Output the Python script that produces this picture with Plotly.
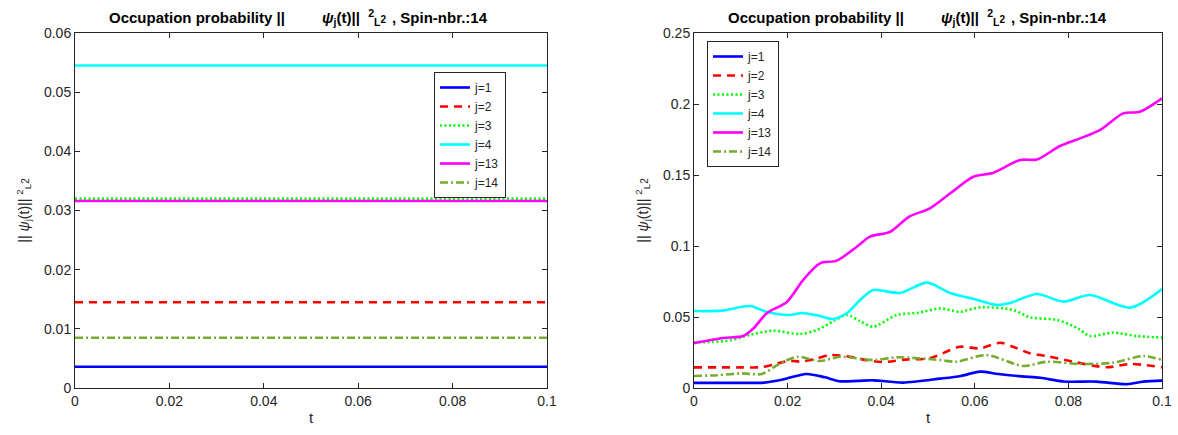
import plotly.graph_objects as go

# ---------- data ----------
labels = ["j=1", "j=2", "j=3", "j=4", "j=13", "j=14"]
colors = ["#0000FF", "#FF0000", "#00FF00", "#00FFFF", "#FF00FF", "#77AC30"]
dashes = ["solid", "8px,6px", "2px,2.5px", "solid", "solid", "8px,3px,2px,3px"]

# left panel: constant occupation probabilities
t_left = [0.0, 0.1]
left_vals = [0.0036, 0.0145, 0.0320, 0.0545, 0.0316, 0.0085]

# right panel: time series per site
t1 = [0, 0.005, 0.01, 0.015, 0.019, 0.024, 0.028, 0.031, 0.035, 0.0383, 0.0447, 0.0526, 0.057, 0.0611, 0.065, 0.07, 0.074, 0.079, 0.086, 0.0925, 0.096, 0.1]
y1 = [0.0036, 0.0036, 0.0036, 0.0038, 0.006, 0.0099, 0.0075, 0.0048, 0.005, 0.0054, 0.0038, 0.0066, 0.0085, 0.0115, 0.0098, 0.0082, 0.0072, 0.0046, 0.0045, 0.0027, 0.0045, 0.0052]

t2 = [0, 0.005, 0.01, 0.0145, 0.0175, 0.0205, 0.0226, 0.026, 0.029, 0.0333, 0.037, 0.0404, 0.045, 0.0504, 0.0568, 0.0611, 0.0654, 0.0682, 0.0718, 0.0754, 0.081, 0.0882, 0.0932, 0.1]
y2 = [0.0145, 0.0145, 0.0145, 0.0147, 0.017, 0.0192, 0.0186, 0.0205, 0.0232, 0.022, 0.0195, 0.0183, 0.020, 0.021, 0.029, 0.0279, 0.0319, 0.029, 0.0244, 0.0225, 0.0185, 0.0146, 0.0169, 0.0146]

t3 = [0, 0.004, 0.0077, 0.012, 0.0169, 0.0226, 0.0262, 0.03, 0.0327, 0.0355, 0.0383, 0.0433, 0.048, 0.0526, 0.0568, 0.0611, 0.0682, 0.0718, 0.0776, 0.082, 0.0846, 0.0895, 0.0946, 0.1]
y3 = [0.032, 0.0325, 0.0335, 0.0375, 0.0404, 0.038, 0.0408, 0.0475, 0.0514, 0.047, 0.0432, 0.0514, 0.053, 0.0561, 0.0537, 0.0568, 0.055, 0.0498, 0.0479, 0.042, 0.0366, 0.039, 0.0366, 0.0355]

t4 = [0, 0.006, 0.012, 0.0156, 0.0205, 0.023, 0.0265, 0.0297, 0.0327, 0.0355, 0.0383, 0.044, 0.0498, 0.0547, 0.06, 0.0647, 0.0675, 0.0733, 0.0789, 0.0846, 0.0932, 0.1]
y4 = [0.0542, 0.0545, 0.0577, 0.0535, 0.0514, 0.0528, 0.051, 0.0486, 0.0528, 0.062, 0.069, 0.0669, 0.0742, 0.0669, 0.0625, 0.0585, 0.0598, 0.0662, 0.0608, 0.0655, 0.0566, 0.0697]

t13 = [0, 0.0062, 0.0105, 0.0127, 0.0156, 0.0199, 0.0233, 0.0269, 0.0305, 0.0348, 0.0376, 0.0419, 0.046, 0.0504, 0.0547, 0.0597, 0.064, 0.0697, 0.0733, 0.0782, 0.0825, 0.0868, 0.0917, 0.0953, 0.1]
y13 = [0.0316, 0.0352, 0.0366, 0.042, 0.0528, 0.0608, 0.076, 0.0878, 0.0897, 0.0995, 0.1066, 0.110, 0.1207, 0.1265, 0.137, 0.1488, 0.1516, 0.1606, 0.161, 0.1704, 0.1758, 0.1817, 0.1934, 0.1946, 0.204]

t14 = [0, 0.005, 0.0103, 0.0145, 0.018, 0.022, 0.027, 0.0312, 0.0383, 0.0433, 0.0526, 0.0561, 0.0625, 0.0703, 0.0754, 0.0825, 0.0895, 0.096, 0.1]
y14 = [0.0085, 0.009, 0.0103, 0.0099, 0.0165, 0.022, 0.019, 0.022, 0.0197, 0.0216, 0.0197, 0.0185, 0.0232, 0.0155, 0.0185, 0.0169, 0.0178, 0.0225, 0.0197]

right_t = [t1, t2, t3, t4, t13, t14]
right_y = [y1, y2, y3, y4, y13, y14]

# ---------- figure ----------
FONT = "Liberation Sans, Arial, Helvetica, sans-serif"
W, H = 1178, 435
fig = go.Figure()

for i, lab in enumerate(labels):
    fig.add_trace(go.Scatter(
        x=t_left, y=[left_vals[i], left_vals[i]], mode="lines", name=lab,
        line=dict(color=colors[i], width=2.6, dash=dashes[i]),
        xaxis="x", yaxis="y", legend="legend"))

for i, lab in enumerate(labels):
    fig.add_trace(go.Scatter(
        x=right_t[i], y=right_y[i], mode="lines", name=lab,
        line=dict(color=colors[i], width=2.6, dash=dashes[i], shape="spline", smoothing=0.8),
        xaxis="x2", yaxis="y2", legend="legend2"))

axis_common = dict(
    showline=True, mirror="allticks", linecolor="#262626", linewidth=1,
    ticks="inside", ticklen=5, tickcolor="#262626",
    showgrid=False, zeroline=False, automargin=False,
    tickfont=dict(family=FONT, size=14, color="#262626"),
)

ytitle = "|| <i>ψ</i><sub>j</sub>(t)|| <sup>2</sup><sub>L</sub><span style='font-size:10px'>2</span>"
xt = [0, 0.02, 0.04, 0.06, 0.08, 0.1]
xtt = ["0", "0.02", "0.04", "0.06", "0.08", "0.1"]
ydom = [47/H, 402/H]

title_a = "<b>Occupation probability ||</b>"
title_b = "<b><i>ψ</i><sub>j</sub>(t)||  <sup>2</sup><sub>L</sub><span style='font-size:10px'>2</span></b>"
title_c = "<b>, Spin-nbr.:14</b>"

annots = []
for off in (0, 619):
    tf = dict(family=FONT, size=15, color="#000")
    annots.append(dict(text=title_a, x=(287+off)/W, y=(H-17)/H, xref="paper", yref="paper",
                       showarrow=False, xanchor="right", yanchor="middle", font=tf))
    annots.append(dict(text=title_b, x=(320+off)/W, y=(H-17)/H, xref="paper", yref="paper",
                       showarrow=False, xanchor="left", yanchor="middle", font=tf))
    annots.append(dict(text=title_c, x=(390+off)/W, y=(H-17)/H, xref="paper", yref="paper",
                       showarrow=False, xanchor="left", yanchor="middle", font=tf))

fig.update_layout(
    width=W, height=H,
    margin=dict(l=0, r=0, t=0, b=0, autoexpand=False),
    paper_bgcolor="white", plot_bgcolor="white",
    font=dict(family=FONT, size=14, color="#262626"),
    xaxis=dict(domain=[75/W, 547/W], range=[0, 0.1], tickvals=xt, ticktext=xtt,
               title=dict(text="t", standoff=4, font=dict(size=15)), anchor="y", **axis_common),
    yaxis=dict(domain=ydom, range=[0, 0.06], tickvals=[0, 0.01, 0.02, 0.03, 0.04, 0.05, 0.06],
               ticktext=["0", "0.01", "0.02", "0.03", "0.04", "0.05", "0.06"],
               title=dict(text=ytitle, standoff=11, font=dict(size=14)), anchor="x", **axis_common),
    xaxis2=dict(domain=[694/W, 1162/W], range=[0, 0.1], tickvals=xt, ticktext=xtt,
                title=dict(text="t", standoff=4, font=dict(size=15)), anchor="y2", **axis_common),
    yaxis2=dict(domain=ydom, range=[0, 0.25], tickvals=[0, 0.05, 0.1, 0.15, 0.2, 0.25],
                ticktext=["0", "0.05", "0.1", "0.15", "0.2", "0.25"],
                title=dict(text=ytitle, standoff=11, font=dict(size=14)), anchor="x2", **axis_common),
    legend=dict(x=434/W, y=(H-72)/H, xanchor="left", yanchor="top",
                bordercolor="#262626", borderwidth=1, bgcolor="white",
                font=dict(family=FONT, size=12, color="#262626"), tracegroupgap=0, itemwidth=30),
    legend2=dict(x=707/W, y=(H-41)/H, xanchor="left", yanchor="top",
                 bordercolor="#262626", borderwidth=1, bgcolor="white",
                 font=dict(family=FONT, size=12, color="#262626"), tracegroupgap=0, itemwidth=30),
    showlegend=True,
    annotations=annots,
)

fig.write_html("out.html", config={"displayModeBar": False},
               post_script="document.body.style.margin='0px';document.body.style.overflow='hidden';")
